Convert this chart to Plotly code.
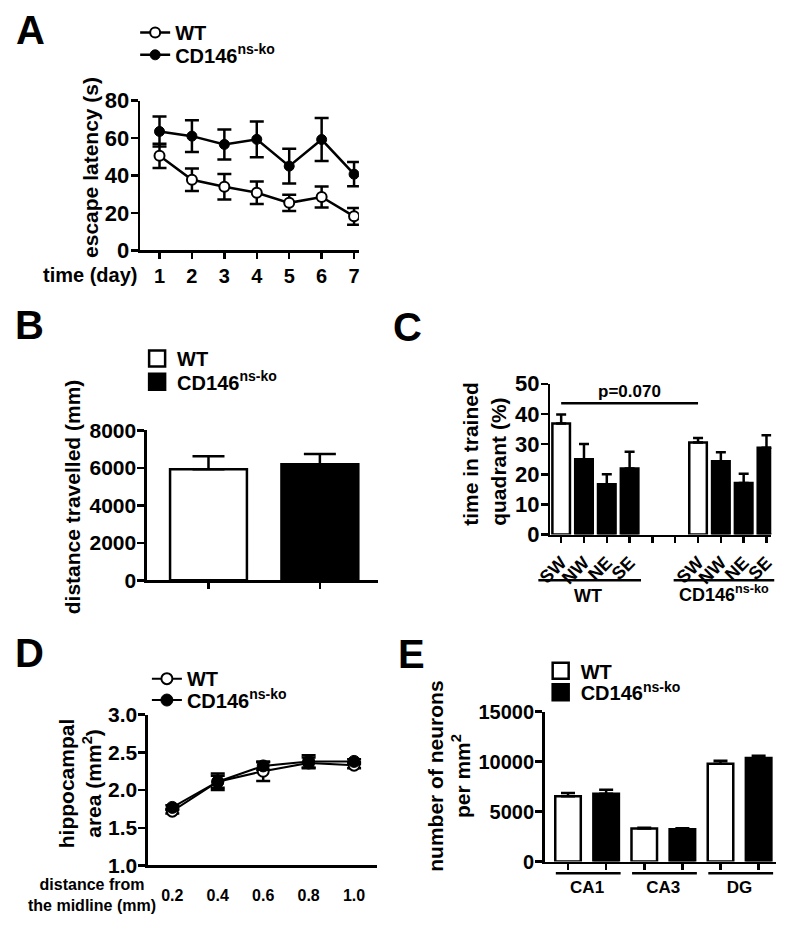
import plotly.graph_objects as go
import numpy as np

# ---------------- data ----------------
# Panel A: escape latency
days = [1, 2, 3, 4, 5, 6, 7]
wt_latency = [50.5, 37.7, 34.0, 30.8, 25.4, 28.5, 18.2]
wt_latency_err = [6.5, 6.0, 6.8, 6.0, 4.3, 5.6, 4.5]
ko_latency = [63.5, 61.0, 56.6, 59.3, 45.0, 59.2, 40.7]
ko_latency_err = [8.0, 8.5, 8.0, 9.5, 9.3, 11.5, 6.5]
a_yticks = [0, 20, 40, 60, 80]

# Panel B: distance travelled
distance = [5930, 6200]
distance_err = [690, 550]
b_yticks = [0, 2000, 4000, 6000, 8000]

# Panel C: time in trained quadrant
quadrants = ["SW", "NW", "NE", "SE"]
wt_quadrant = [36.8, 25.0, 16.7, 21.9]
wt_quadrant_err = [3.0, 5.0, 3.3, 5.6]
ko_quadrant = [30.5, 24.3, 17.1, 28.8]
ko_quadrant_err = [1.5, 3.0, 3.1, 4.1]
c_yticks = [0, 10, 20, 30, 40, 50]
p_text = "p=0.070"
p_y = 43.5

# Panel D: hippocampal area
midline = [0.2, 0.4, 0.6, 0.8, 1.0]
wt_area = [1.72, 2.11, 2.25, 2.36, 2.33]
wt_area_err = [0.03, 0.08, 0.13, 0.07, 0.04]
ko_area = [1.77, 2.11, 2.32, 2.38, 2.38]
ko_area_err = [0.03, 0.11, 0.05, 0.08, 0.03]
d_yticks = [1.0, 1.5, 2.0, 2.5, 3.0]
d_xticks = ["0.2", "0.4", "0.6", "0.8", "1.0"]

# Panel E: neuron density
regions = ["CA1", "CA3", "DG"]
wt_neurons = [6550, 3300, 9780]
wt_neurons_err = [320, 90, 300]
ko_neurons = [6800, 3240, 10370]
ko_neurons_err = [390, 100, 230]
e_yticks = [0, 5000, 10000, 15000]

WT_NAME = "WT"
KO_NAME = "CD146<sup>ns-ko</sup>"

# ---------------- layout helpers ----------------
W, H = 787, 932
FONT = "Liberation Sans, Arial, sans-serif"
LW = 2.5


def px(x):
    return x / W


def py(y):
    return 1 - y / H


def dom_x(a, b):
    return [px(a), px(b)]


def dom_y(top, bottom):
    return [py(bottom), py(top)]


fig = go.Figure()

# ---------------- Panel A ----------------
fig.add_trace(go.Scatter(
    x=days, y=ko_latency, mode="lines+markers", name=KO_NAME,
    line=dict(color="black", width=LW),
    marker=dict(symbol="circle", size=10, color="black", line=dict(color="black", width=1)),
    error_y=dict(type="data", array=ko_latency_err, color="black", thickness=LW, width=7),
    xaxis="x", yaxis="y", legend="legend2"))
fig.add_trace(go.Scatter(
    x=days, y=wt_latency, mode="lines+markers", name=WT_NAME,
    line=dict(color="black", width=LW),
    marker=dict(symbol="circle", size=10, color="white", line=dict(color="black", width=2)),
    error_y=dict(type="data", array=wt_latency_err, color="black", thickness=LW, width=7),
    xaxis="x", yaxis="y", legend="legend"))

# ---------------- Panel B ----------------
b_x = np.arange(len(distance))
fig.add_trace(go.Bar(
    x=[b_x[0]], y=[distance[0]], width=0.69, showlegend=False,
    marker=dict(color="white", line=dict(color="black", width=LW)),
    error_y=dict(type="data", array=[distance_err[0]], arrayminus=[0], symmetric=False,
                 color="black", thickness=LW, width=16),
    xaxis="x2", yaxis="y2"))
fig.add_trace(go.Bar(
    x=[b_x[1]], y=[distance[1]], width=0.69, showlegend=False,
    marker=dict(color="black", line=dict(color="black", width=LW)),
    error_y=dict(type="data", array=[distance_err[1]], arrayminus=[0], symmetric=False,
                 color="black", thickness=LW, width=16),
    xaxis="x2", yaxis="y2"))
for name, col, lg in [(WT_NAME, "white", "legend3"), (KO_NAME, "black", "legend4")]:
    fig.add_trace(go.Scatter(
        x=[None], y=[None], mode="markers", name=name,
        marker=dict(symbol="square", size=16, color=col, line=dict(color="black", width=LW)),
        xaxis="x2", yaxis="y2", legend=lg))

# ---------------- Panel C ----------------
c_wt_x = np.arange(len(quadrants))
c_ko_x = np.arange(len(quadrants)) + len(quadrants) + 2
c_colors = ["white"] + ["black"] * (len(quadrants) - 1)
for xs, ys, es in [(c_wt_x, wt_quadrant, wt_quadrant_err), (c_ko_x, ko_quadrant, ko_quadrant_err)]:
    fig.add_trace(go.Bar(
        x=xs, y=ys, width=0.77, showlegend=False,
        marker=dict(color=c_colors, line=dict(color="black", width=LW)),
        error_y=dict(type="data", array=es, arrayminus=[0] * len(es), symmetric=False,
                     color="black", thickness=LW, width=5),
        xaxis="x3", yaxis="y3"))

# ---------------- Panel D ----------------
fig.add_trace(go.Scatter(
    x=midline, y=wt_area, mode="lines+markers", name=WT_NAME,
    line=dict(color="black", width=2),
    marker=dict(symbol="circle", size=11, color="white", line=dict(color="black", width=2)),
    error_y=dict(type="data", array=wt_area_err, color="black", thickness=LW, width=7),
    xaxis="x4", yaxis="y4", legend="legend5"))
fig.add_trace(go.Scatter(
    x=midline, y=ko_area, mode="lines+markers", name=KO_NAME,
    line=dict(color="black", width=2),
    marker=dict(symbol="circle", size=12, color="black", line=dict(color="black", width=1)),
    error_y=dict(type="data", array=ko_area_err, color="black", thickness=LW, width=7),
    xaxis="x4", yaxis="y4", legend="legend6"))

# ---------------- Panel E ----------------
e_wt_x = np.arange(len(regions)) * 2
e_ko_x = np.arange(len(regions)) * 2 + 1
fig.add_trace(go.Bar(
    x=e_wt_x, y=wt_neurons, width=0.67, showlegend=False,
    marker=dict(color="white", line=dict(color="black", width=LW)),
    error_y=dict(type="data", array=wt_neurons_err, arrayminus=[0] * 3, symmetric=False,
                 color="black", thickness=LW, width=7),
    xaxis="x5", yaxis="y5"))
fig.add_trace(go.Bar(
    x=e_ko_x, y=ko_neurons, width=0.67, showlegend=False,
    marker=dict(color="black", line=dict(color="black", width=LW)),
    error_y=dict(type="data", array=ko_neurons_err, arrayminus=[0] * 3, symmetric=False,
                 color="black", thickness=LW, width=7),
    xaxis="x5", yaxis="y5"))
for name, col, lg in [(WT_NAME, "white", "legend7"), (KO_NAME, "black", "legend8")]:
    fig.add_trace(go.Scatter(
        x=[None], y=[None], mode="markers", name=name,
        marker=dict(symbol="square", size=16, color=col, line=dict(color="black", width=LW)),
        xaxis="x5", yaxis="y5", legend=lg))

# ---------------- axes ----------------
tickfont = dict(family=FONT, size=21, color="black", weight="bold")
common = dict(showline=True, linecolor="black", linewidth=LW, ticks="outside",
              tickcolor="black", tickwidth=LW, ticklen=7, showgrid=False, zeroline=False,
              fixedrange=True)
ycommon = dict(common, ticklabelstandoff=-3)

layout = dict(
    width=W, height=H, margin=dict(l=0, r=0, t=0, b=0),
    paper_bgcolor="white", plot_bgcolor="white",
    font=dict(family=FONT, color="black"),
    barmode="overlay",
    # A
    xaxis=dict(common, domain=dom_x(129, 353), range=[0.4, 7.15], anchor="y",
               tickvals=days, ticktext=[str(d) for d in days], ticklen=6,
               tickfont=dict(tickfont, size=20), ticklabelstandoff=0),
    yaxis=dict(ycommon, domain=dom_y(91, 245), range=[0, 80], anchor="x",
               tickvals=a_yticks, ticktext=[str(v) for v in a_yticks],
               tickfont=dict(tickfont, size=22)),
    # B
    xaxis2=dict(common, domain=dom_x(136, 373), range=[-0.553, 1.526], anchor="y2",
                tickvals=list(b_x), showticklabels=False, ticklen=6),
    yaxis2=dict(ycommon, domain=dom_y(430, 584), range=[0, 8000], anchor="x2",
                tickvals=b_yticks, ticktext=[str(v) for v in b_yticks], tickfont=tickfont),
    # C
    xaxis3=dict(common, domain=dom_x(549, 775), range=[-0.47, 9.21], anchor="y3",
                tickvals=list(c_wt_x) + [4, 5] + list(c_ko_x),
                ticktext=quadrants + ["", ""] + quadrants, tickangle=-45, ticklen=6,
                tickfont=dict(tickfont, size=18), ticklabelstandoff=2),
    yaxis3=dict(ycommon, domain=dom_y(382, 537), range=[0, 50], anchor="x3",
                tickvals=c_yticks, ticktext=[str(v) for v in c_yticks],
                tickfont=dict(tickfont, size=22)),
    # D
    xaxis4=dict(common, domain=dom_x(137, 372), range=[0.0925, 1.103], anchor="y4",
                tickvals=midline, ticktext=d_xticks, ticks="", showline=True,
                tickfont=dict(tickfont, size=16), ticklabelstandoff=14),
    yaxis4=dict(ycommon, domain=dom_y(722, 877), range=[1, 3], anchor="x4",
                tickvals=d_yticks, ticktext=[f"{v:.1f}" for v in d_yticks], tickfont=tickfont),
    # E
    xaxis5=dict(common, domain=dom_x(543, 780), range=[-0.615, 5.46], anchor="y5",
                tickvals=list(e_wt_x + 0.5), ticktext=regions, ticks="outside", ticklen=0,
                tickfont=dict(tickfont, size=17), ticklabelstandoff=9,
                minor=dict(tickvals=list(e_wt_x) + list(e_ko_x), ticks="outside", ticklen=6,
                           tickwidth=LW, tickcolor="black", showgrid=False)),
    yaxis5=dict(ycommon, domain=dom_y(719, 873), range=[0, 15000], anchor="x5",
                tickvals=e_yticks, ticktext=[str(v) for v in e_yticks],
                tickfont=dict(tickfont, size=20)),
)

# legends
leg_font = dict(family=FONT, size=20, color="black", weight="bold")


def leg(text_x, center_y):
    return dict(x=px(text_x - 46), y=py(center_y), xanchor="left", yanchor="middle",
                bgcolor="rgba(0,0,0,0)", borderwidth=0, font=leg_font, itemclick=False,
                itemdoubleclick=False)


layout["legend"] = leg(170, 21)
layout["legend2"] = leg(170, 44)
layout["legend3"] = leg(172, 356)
layout["legend4"] = leg(172, 380)
layout["legend5"] = leg(182, 685)
layout["legend6"] = leg(182, 707)
layout["legend7"] = leg(585, 677)
layout["legend8"] = leg(585, 699)

fig.update_layout(**layout)

# ---------------- annotations ----------------
ann = []


def text(s, x, y, size=21, angle=0, xa="center", ya="middle", align="center", bold=True):
    ann.append(dict(text=s, x=px(x), y=py(y), xref="paper", yref="paper", showarrow=False,
                    xanchor=xa, yanchor=ya, textangle=angle, align=align,
                    font=dict(family=FONT, size=size, color="black",
                              weight="bold" if bold else "normal")))


# panel letters
for letter, (lx, ly) in {"A": (17, 19), "B": (16, 322), "C": (403, 324),
                         "D": (16, 659), "E": (407, 660)}.items():
    text(letter, lx, ly, size=40)

# axis titles
text("escape latency (s)", 78, 160, angle=-90)
text("time (day)", 128, 270, size=20, xa="right")
text("distance travelled (mm)", 60, 498, angle=-90)
text("time in trained<br>quadrant (%)", 481, 530, angle=-90, ya="bottom", align="left")
text("hippocampal<br>area (mm<sup>2</sup>)", 67, 792, angle=-90)
text("distance from<br>the midline (mm)", 80, 907, size=16)
text("number of neurons<br>per mm<sup>2</sup>", 445, 785, angle=-90)

# panel C group labels & p-value
text("WT", 587, 600, size=18)
text("CD146<sup>ns-ko</sup>", 727, 598, size=18)
ann.append(dict(text=p_text, x=3, y=p_y + 4, xref="x3", yref="y3", showarrow=False,
                xanchor="center", yanchor="middle",
                font=dict(family=FONT, size=17, color="black", weight="bold")))
fig.update_layout(annotations=ann)

# ---------------- shapes ----------------
shapes = []
# p-value bracket line from WT SW to KO SW
shapes.append(dict(type="line", xref="x3", yref="y3", x0=c_wt_x[0], x1=c_ko_x[0],
                   y0=p_y, y1=p_y, line=dict(color="black", width=LW)))


def xfrac(v, r):
    return (v - r[0]) / (r[1] - r[0])


c_range = [-0.47, 9.21]
for g0, g1 in [(-1.0, 3.5), (4.93, 9.34)]:
    shapes.append(dict(type="line", xref="x3 domain", yref="paper",
                       x0=xfrac(g0, c_range), x1=xfrac(g1, c_range), y0=py(584), y1=py(584),
                       line=dict(color="black", width=LW)))
e_range = [-0.615, 5.46]
for c in e_wt_x + 0.5:
    shapes.append(dict(type="line", xref="x5 domain", yref="paper",
                       x0=xfrac(c - 0.82, e_range), x1=xfrac(c + 0.88, e_range),
                       y0=py(885), y1=py(885), line=dict(color="black", width=LW)))
fig.update_layout(shapes=shapes)

fig.write_html(
    "out.html",
    config={"displayModeBar": False, "staticPlot": True},
    post_script=("document.documentElement.style.margin='0';"
                 "document.documentElement.style.overflow='hidden';"
                 "document.body.style.margin='0';document.body.style.padding='0';"
                 "document.body.style.overflow='hidden';"))
